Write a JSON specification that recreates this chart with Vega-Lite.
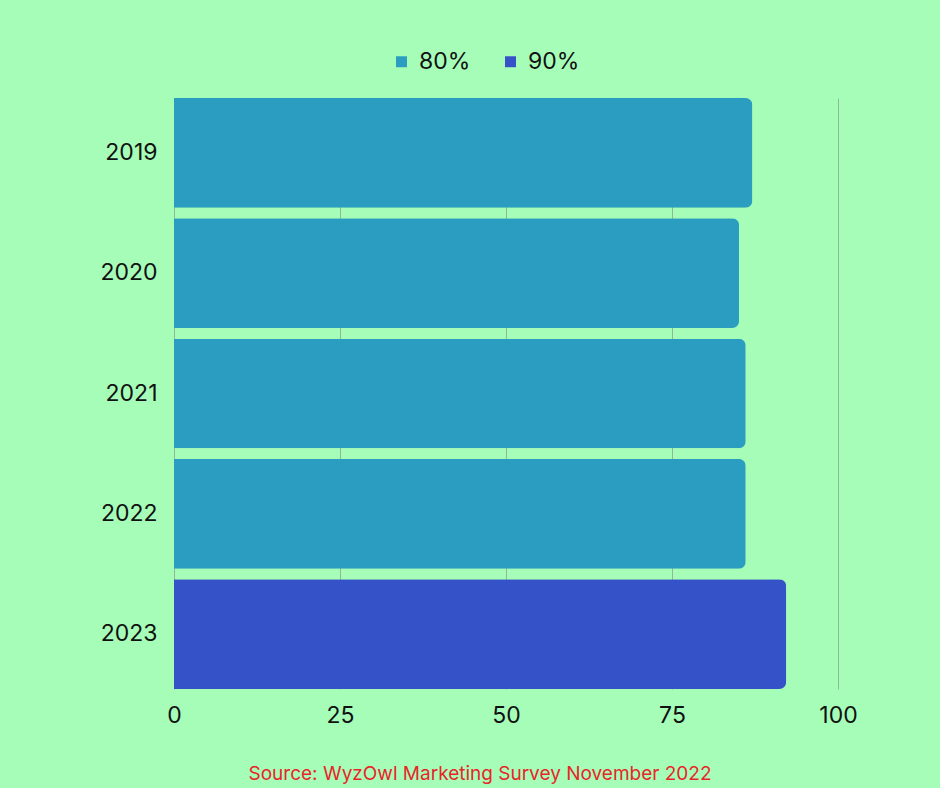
{
  "$schema": "https://vega.github.io/schema/vega-lite/v6.json",
  "autosize": {"type": "none"},
  "width": 664,
  "height": 591,
  "padding": {"left": 174, "top": 98, "right": 102, "bottom": 99},
  "background": "#A6FDB8",
  "config": {
    "view": {"stroke": null},
    "font": "Inter"
  },
  "title": {
    "text": "Source: WyzOwl Marketing Survey November 2022",
    "orient": "bottom",
    "anchor": "middle",
    "dx": -26,
    "offset": 38,
    "fontSize": 19,
    "fontWeight": "normal",
    "color": "#E8262A",
    "font": "Inter"
  },
  "data": {
    "values": [
      {"year": "2019", "value": 87.1, "group": "80%"},
      {"year": "2020", "value": 85.1, "group": "80%"},
      {"year": "2021", "value": 86.1, "group": "80%"},
      {"year": "2022", "value": 86.1, "group": "80%"},
      {"year": "2023", "value": 92.2, "group": "90%"}
    ]
  },
  "mark": {"type": "bar", "cornerRadiusEnd": 7},
  "encoding": {
    "y": {
      "field": "year",
      "type": "nominal",
      "sort": null,
      "scale": {"paddingInner": 0.088, "paddingOuter": 0},
      "axis": {
        "title": null,
        "domain": false,
        "ticks": false,
        "labelFontSize": 23,
        "labelColor": "#111111",
        "labelPadding": 17
      }
    },
    "x": {
      "field": "value",
      "type": "quantitative",
      "scale": {"domain": [0, 100], "nice": false},
      "axis": {
        "title": null,
        "values": [0, 25, 50, 75, 100],
        "domain": false,
        "ticks": false,
        "grid": true,
        "gridColor": "#8fb899",
        "gridWidth": 1,
        "labelFontSize": 23,
        "labelColor": "#111111",
        "labelPadding": 15,
        "labelFlush": false
      }
    },
    "color": {
      "field": "group",
      "type": "nominal",
      "scale": {"domain": ["80%", "90%"], "range": ["#2A9DC0", "#3552C8"]},
      "legend": {
        "title": null,
        "orient": "none",
        "direction": "horizontal",
        "legendX": 216,
        "legendY": -48,
        "symbolType": "square",
        "symbolSize": 120,
        "symbolStrokeWidth": 0,
        "labelFontSize": 23,
        "labelColor": "#111111",
        "columnPadding": 28,
        "labelOffset": 6
      }
    }
  }
}
